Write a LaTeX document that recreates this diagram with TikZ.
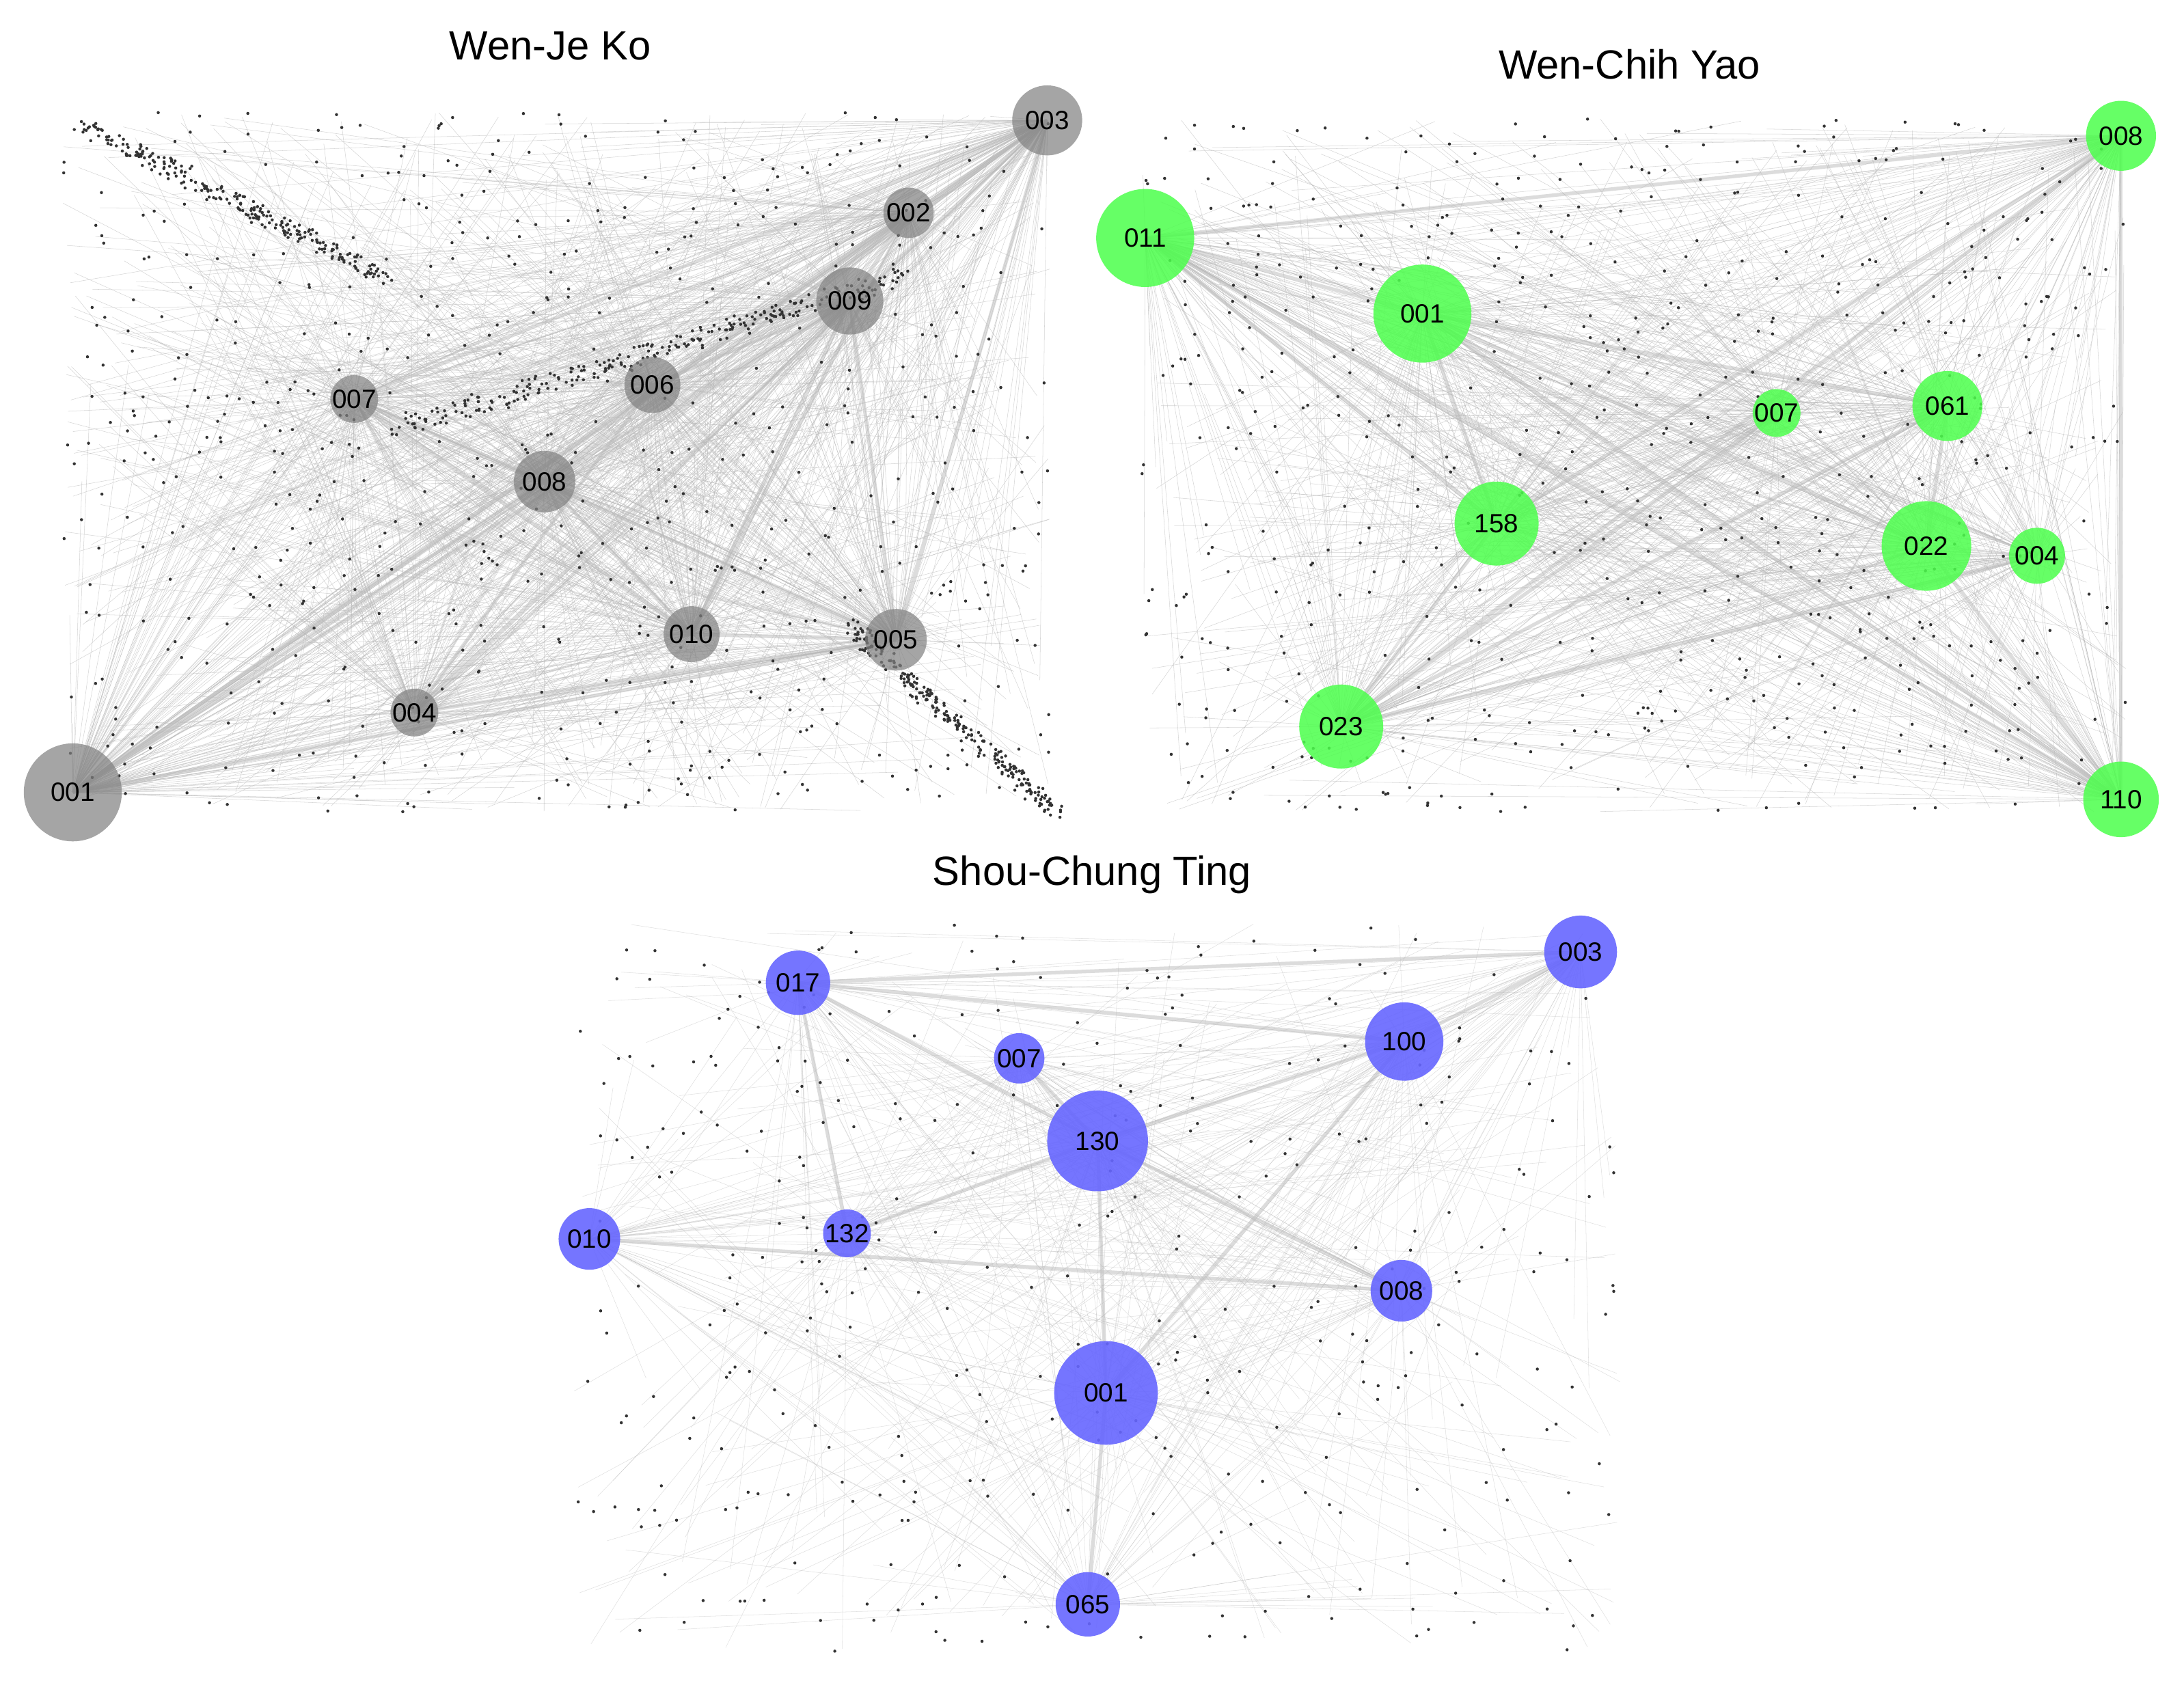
\documentclass[tikz,border=0pt]{standalone}
\usepackage{fontspec}
\setmainfont{Liberation Sans}
\begin{document}
\begin{tikzpicture}[x=0.2049mm,y=-0.2049mm,
 edge/.style={draw=gray!55,line width=0.15pt,opacity=0.6},
 hedge/.style={draw=gray!45,line width=1.5pt,opacity=0.6},
 dot/.style={fill=black!80},
 hub/.style={circle,minimum size=#1*0.4098mm,inner sep=0,font=\fontsize{11}{13}\selectfont},
 ko/.style={hub=#1,fill=gray,fill opacity=0.7,text opacity=1},
 yao/.style={hub=#1,fill=green!70!white,fill opacity=0.85,text opacity=1},
 ting/.style={hub=#1,fill=blue!60!white,fill opacity=0.9,text opacity=1},
 title/.style={font=\fontsize{17}{20}\selectfont}]
\useasboundingbox (0,0) rectangle (1560,1202);
\fill[white] (0,0) rectangle (1560,1202);
\foreach \n/\x/\y in {0/52/566,1/748/86,2/649/152,3/607/215,4/253/285,5/466/275,6/389/344,7/494/453,8/640/457,9/296/509}
  \coordinate (A\n) at (\x,\y);
\foreach \n/\x/\y in {0/818/170,1/1515/97,2/1016/224,3/1269/295,4/1391/290,5/1069/374,6/1376/390,7/1455/397,8/958/519,9/1515/571}
  \coordinate (B\n) at (\x,\y);
\foreach \n/\x/\y in {0/570/702,1/1129/680,2/728/756,3/1003/744,4/784/815,5/421/885,6/605/881,7/1001/922,8/790/995,9/777/1146}
  \coordinate (C\n) at (\x,\y);
\foreach \a/\b in {0/1,0/3,0/2,0/8,1/4,1/6,2/7,3/6,3/8,4/8,5/9,6/7,6/0,7/8,9/8,2/3,1/9,5/3,4/7,1/8,3/7}
  \draw[hedge] (A\a) -- (A\b);
\foreach \a/\b in {0/1,0/2,0/5,2/6,8/4,8/1,2/9,5/8,4/6,6/9,1/9,3/8,0/9,2/5,8/7,1/5,2/4}
  \draw[hedge] (B\a) -- (B\b);
\foreach \a/\b in {0/4,0/6,0/3,4/8,4/3,8/3,8/9,5/7,6/4,1/3,4/7,2/4,0/1}
  \draw[hedge] (C\a) -- (C\b);
\pgfmathsetseed{7}
\foreach \i in {1,...,1400}{
  \pgfmathsetmacro\px{45+rnd*705}
  \pgfmathsetmacro\py{80+rnd*500}
  \pgfmathtruncatemacro\k{int(rnd*10)}
  \draw[edge] (\px,\py) -- (A\k);
}
\foreach \i in {1,...,600}{
  \pgfmathsetmacro\px{45+rnd*705}
  \pgfmathsetmacro\py{80+rnd*500}
  \fill[dot] (\px,\py) circle (1.1);
}
\foreach \i in {1,...,250}{
  \pgfmathsetmacro\t{rnd}
  \pgfmathsetmacro\px{50+\t*220+rnd*12}
  \pgfmathsetmacro\py{82+\t*110+rnd*12}
  \fill[dot] (\px,\py) circle (1.1);
  \pgfmathsetmacro\t{rnd}
  \pgfmathsetmacro\px{600+\t*148+rnd*12}
  \pgfmathsetmacro\py{440+\t*135+rnd*12}
  \fill[dot] (\px,\py) circle (1.1);
  \pgfmathsetmacro\t{rnd}
  \pgfmathsetmacro\px{270+\t*370+rnd*14}
  \pgfmathsetmacro\py{300-\t*110+rnd*14}
  \fill[dot] (\px,\py) circle (1.1);
}
\foreach \i in {1,...,1000}{
  \pgfmathsetmacro\px{815+rnd*705}
  \pgfmathsetmacro\py{85+rnd*495}
  \pgfmathtruncatemacro\k{int(rnd*10)}
  \draw[edge] (\px,\py) -- (B\k);
}
\foreach \i in {1,...,550}{
  \pgfmathsetmacro\px{815+rnd*705}
  \pgfmathsetmacro\py{85+rnd*495}
  \fill[dot] (\px,\py) circle (1.1);
}
\foreach \i in {1,...,500}{
  \pgfmathsetmacro\px{410+rnd*750}
  \pgfmathsetmacro\py{660+rnd*520}
  \pgfmathtruncatemacro\k{int(rnd*10)}
  \draw[edge,opacity=0.45] (\px,\py) -- (C\k);
}
\foreach \i in {1,...,350}{
  \pgfmathsetmacro\px{410+rnd*750}
  \pgfmathsetmacro\py{660+rnd*520}
  \fill[dot] (\px,\py) circle (1.1);
}
\node[title] (t1) at (393,33) {Wen-Je Ko};
\node[title] (t2) at (1164,46) {Wen-Chih Yao};
\node[title] (t3) at (780,625) {Shou-Chung Ting};
\foreach \n/\l/\r in {0/001/35,1/003/25,2/002/18,3/009/24,4/007/17,5/006/20,6/008/22,7/010/20,8/005/22,9/004/17}
  \node[ko=\r] (ko\l) at (A\n) {\l};
\foreach \n/\l/\r in {0/011/35,1/008/25,2/001/35,3/007/13,4/061/25,5/158/30,6/022/32,7/004/20,8/023/30,9/110/27}
  \node[yao=\r] (yao\l) at (B\n) {\l};
\foreach \n/\l/\r in {0/017/23,1/003/26,2/007/18,3/100/28,4/130/36,5/010/22,6/132/15,7/008/22,8/001/37,9/065/23}
  \node[ting=\r] (ting\l) at (C\n) {\l};
\end{tikzpicture}
\end{document}
